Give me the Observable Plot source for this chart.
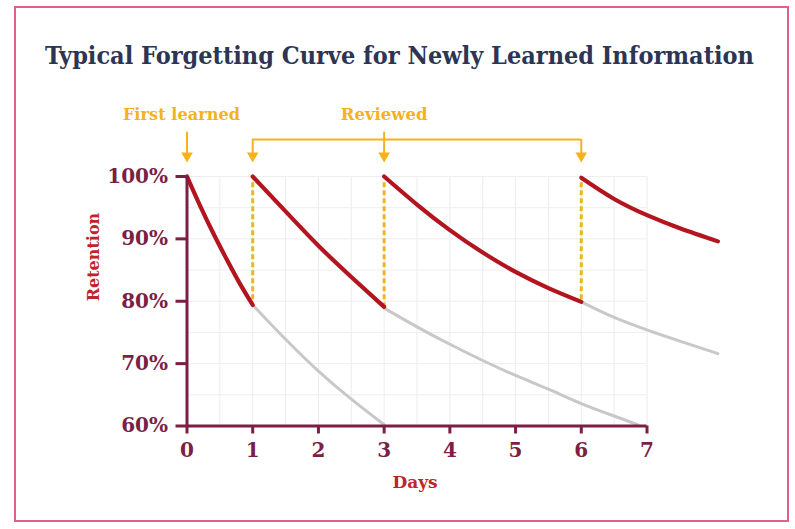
<!DOCTYPE html>
<html>
<head>
<meta charset="utf-8">
<script src="https://cdn.jsdelivr.net/npm/d3@7"></script>
<script src="https://cdn.jsdelivr.net/npm/@observablehq/plot@0.6"></script>
<style>
  html, body { margin: 0; padding: 0; background: #fff; }
  #wrap { position: relative; width: 795px; height: 529px; overflow: hidden; background: #fff; }
  #frame { position: absolute; left: 14px; top: 6px; width: 775px; height: 516px; border: 2px solid #e0628a; box-sizing: border-box; }
  #title { position: absolute; left: 0; top: 0; width: 799px; height: 90px; text-align: center;
           font-family: "DejaVu Serif", serif; font-stretch: condensed; font-weight: bold; font-size: 25px;
           color: #2c3553; line-height: 112px; letter-spacing: 0px; }
  #chart { position: absolute; left: 0; top: 90px; }
  #chart svg { font-family: "DejaVu Serif", serif; }
</style>
</head>
<body>
<div id="wrap">
  <div id="frame"></div>
  <div id="title">Typical Forgetting Curve for Newly Learned Information</div>
  <div id="chart"></div>
</div>
<script>
// ---- data ----
const dayTicks = [0, 1, 2, 3, 4, 5, 6, 7];
const retentionTicks = [60, 70, 80, 90, 100];
const firstLearnedDay = 0;
const reviewDays = [1, 3, 6];

// red: retention with reviews
const red1Days = [0, 0.2, 0.4, 0.6, 0.8, 1];
const red1Ret  = [100, 95.3, 90.9, 86.8, 82.9, 79.4];
const red2Days = [1, 1.5, 2, 2.5, 3];
const red2Ret  = [100, 94.4, 88.9, 83.9, 79.1];
const red3Days = [3, 3.5, 4, 4.5, 5, 5.5, 6];
const red3Ret  = [100, 95.5, 91.4, 87.8, 84.7, 82.1, 79.9];
const red4Days = [6, 6.5, 7, 7.5, 8.08];
const red4Ret  = [99.8, 96.4, 93.8, 91.7, 89.6];

// gray: retention without the next review
const gray1Days = [1, 1.5, 2, 2.5, 3];
const gray1Ret  = [79.4, 73.9, 68.8, 64.3, 60.2];
const gray2Days = [3, 3.5, 4, 4.5, 5, 5.5, 6, 6.5, 6.86];
const gray2Ret  = [78.9, 75.9, 73.1, 70.5, 68.1, 65.9, 63.6, 61.6, 60.2];
const gray3Days = [6, 6.5, 7, 7.5, 8.08];
const gray3Ret  = [79.9, 77.4, 75.4, 73.6, 71.6];

// ---- build tables ----
const toRows = (days, ret, seg) => days.map((d, i) => ({day: d, ret: ret[i], seg}));
const redRows = [
  ...toRows(red1Days, red1Ret, "r1"), ...toRows(red2Days, red2Ret, "r2"),
  ...toRows(red3Days, red3Ret, "r3"), ...toRows(red4Days, red4Ret, "r4")];
const grayRows = [
  ...toRows(gray1Days, gray1Ret, "g1"), ...toRows(gray2Days, gray2Ret, "g2"),
  ...toRows(gray3Days, gray3Ret, "g3")];
const redEnds = [red1Ret, red2Ret, red3Ret].map(a => a[a.length - 1]);
const dashRows = reviewDays.map((d, i) => ({day: d, top: 99, bottom: redEnds[i]}));

const gridDays = d3.range(0, 7.001, 0.5);
const gridRet = d3.range(60, 100.001, 5);

// styles
const maroon = "#7b1f45", red = "#b3151f", gray = "#c8c8c8", gold = "#f5b21c", labelRed = "#c0242b";
// annotation levels (in retention units, above the plot frame)
const annLabelY = 109.9, annArrowTopY = 107.1, annBracketY = 105.95, annTipY = 102.25;

const chart = Plot.plot({
  width: 795, height: 439,
  marginLeft: 186.5, marginRight: 148.5, marginTop: 86, marginBottom: 103.5,
  x: {domain: [0, 7], axis: null},
  y: {domain: [60, 100], axis: null},
  marks: [
    // grid
    Plot.ruleX(gridDays, {y1: 60, y2: 100, stroke: "#ececec", strokeWidth: 1}),
    Plot.ruleY(gridRet, {x1: 0, x2: 7, stroke: "#eeeeee", strokeWidth: 1}),
    // gray curves
    Plot.line(grayRows, {x: "day", y: "ret", z: "seg", stroke: gray, strokeWidth: 3, curve: "natural"}),
    // dashed review lines
    Plot.ruleX(dashRows, {x: "day", y1: "top", y2: "bottom", stroke: gold, strokeWidth: 3, strokeDasharray: "5,3"}),
    // red curves
    Plot.line(redRows, {x: "day", y: "ret", z: "seg", stroke: red, strokeWidth: 4.2, curve: "natural", strokeLinecap: "round"}),
    // axes
    Plot.ruleX([0], {y1: 60, y2: 100, stroke: maroon, strokeWidth: 3}),
    Plot.ruleY([60], {x1: 0, x2: 7, stroke: maroon, strokeWidth: 3}),
    Plot.axisY(retentionTicks, {x: 0, anchor: "left", tickSize: 11, tickPadding: 8, stroke: maroon, strokeWidth: 3,
      fill: maroon, fontSize: 20, fontWeight: "bold", tickFormat: d => d + "%", label: null}),
    Plot.axisX(dayTicks, {y: 60, anchor: "bottom", tickSize: 8, tickPadding: 9, stroke: maroon, strokeWidth: 3,
      fill: maroon, fontSize: 20, fontWeight: "bold", tickFormat: d => String(d), label: null}),
    // axis titles
    Plot.text(["Days"], {frameAnchor: "bottom", dx: -2, dy: 62, fill: labelRed, fontSize: 17, fontWeight: "bold"}),
    Plot.text(["Retention"], {frameAnchor: "left", dx: -93, rotate: -90, fill: labelRed, fontSize: 16, fontWeight: "bold"}),
    // annotations
    Plot.text(["First learned"], {x: firstLearnedDay, y: annLabelY, dx: -5.5, fill: gold, fontSize: 16.2, fontWeight: "bold"}),
    Plot.text(["Reviewed"], {x: reviewDays[1], y: annLabelY, fill: gold, fontSize: 16.5, fontWeight: "bold"}),
    Plot.ruleX([firstLearnedDay, reviewDays[1]], {y1: annArrowTopY, y2: annTipY + 1, stroke: gold, strokeWidth: 2}),
    Plot.ruleX([reviewDays[0], reviewDays[2]], {y1: annBracketY, y2: annTipY + 1, stroke: gold, strokeWidth: 2}),
    Plot.ruleY([annBracketY], {x1: reviewDays[0], x2: reviewDays[2], stroke: gold, strokeWidth: 2}),
    Plot.dot([firstLearnedDay, ...reviewDays], {x: d => d, y: annTipY, dy: -6.7, symbol: "triangle", rotate: 180, r: 4.3, fill: gold, stroke: "none"})
  ]
});
document.getElementById("chart").appendChild(chart);
</script>
</body>
</html>
